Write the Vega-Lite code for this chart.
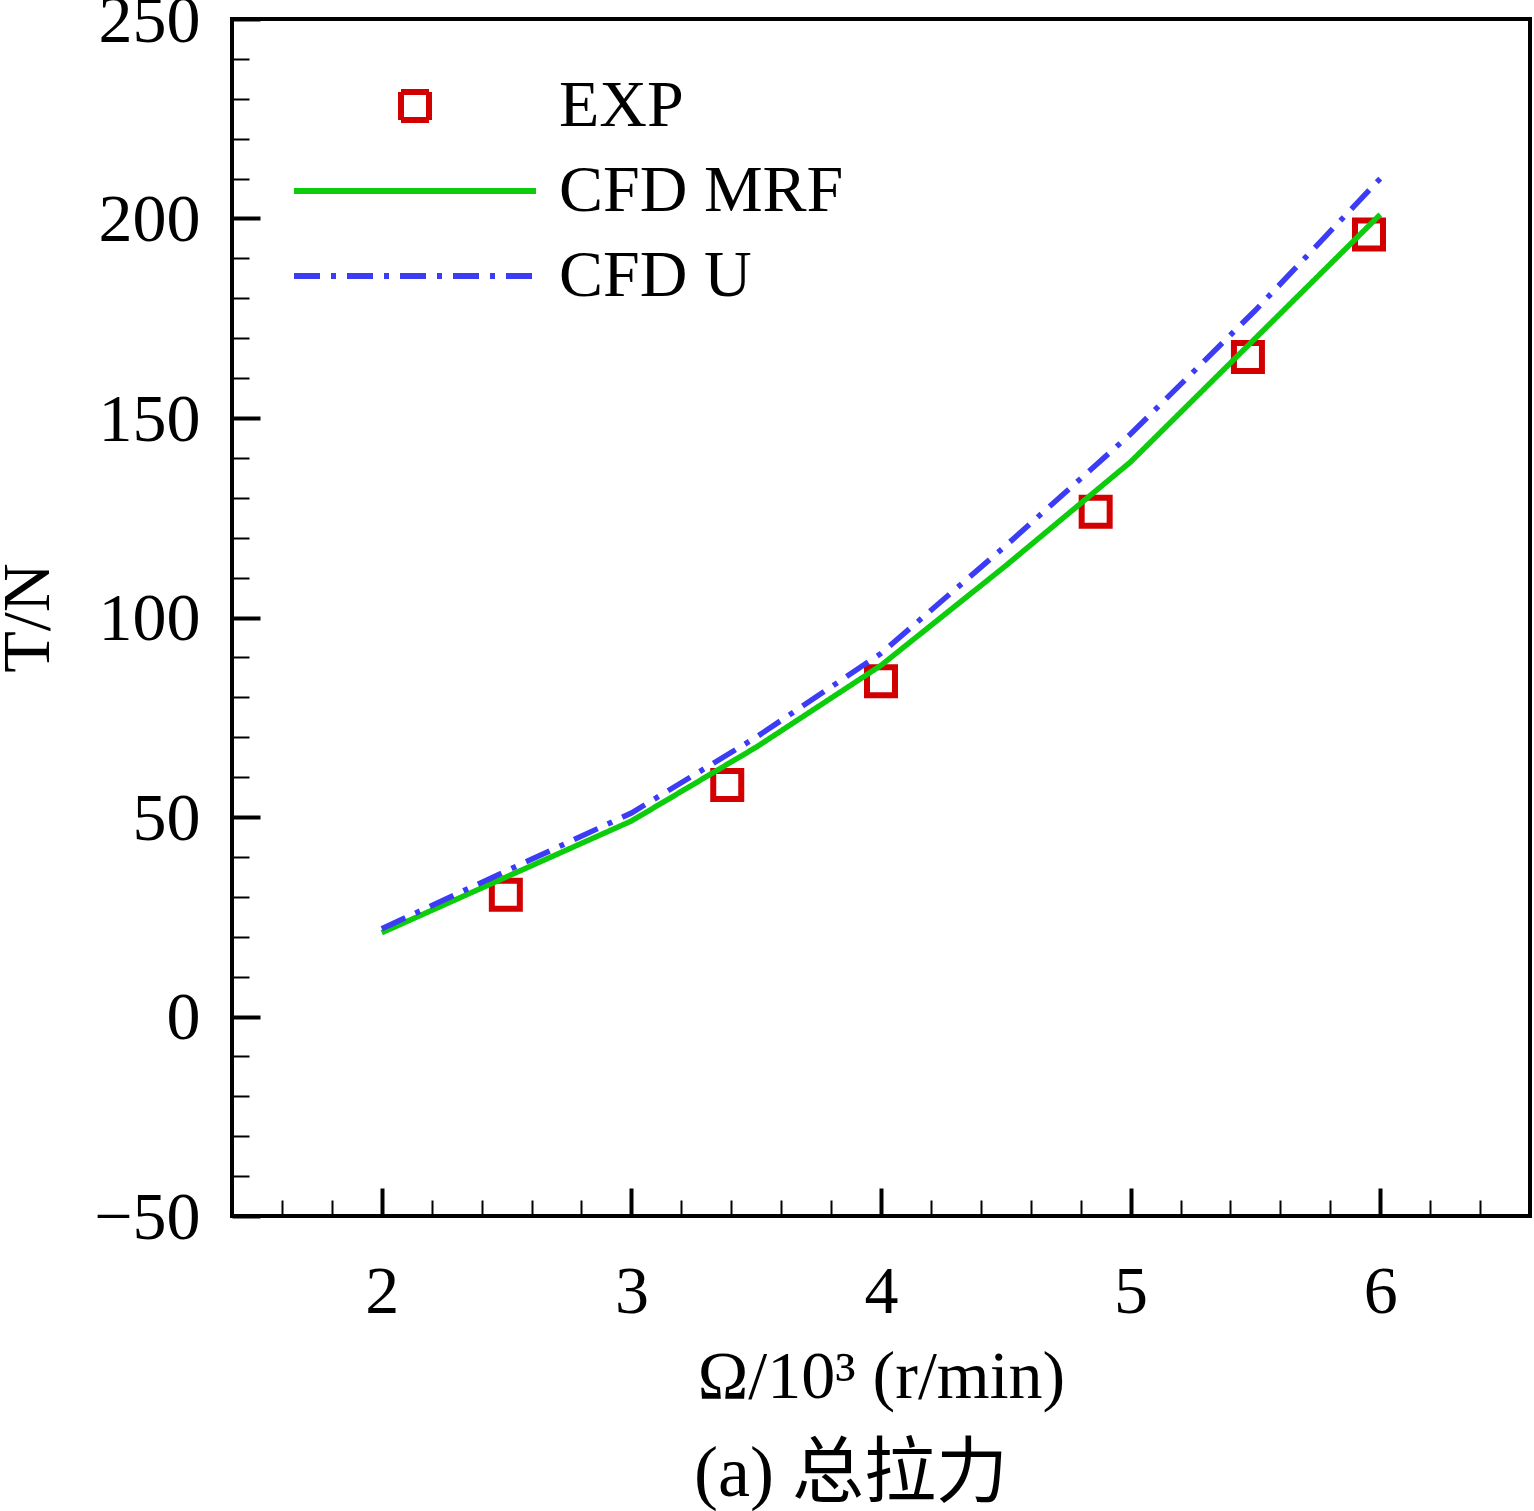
{
  "$schema": "https://vega.github.io/schema/vega-lite/v6.json",
  "description": "Total thrust T vs rotor speed: EXP vs CFD MRF vs CFD U",
  "width": 1298,
  "height": 1197,
  "autosize": {"type": "none"},
  "padding": {"left": 232, "top": 19, "right": 4, "bottom": 295},
  "background": "white",
  "title": {
    "text": "(a) 总拉力",
    "orient": "bottom",
    "anchor": "middle",
    "frame": "group",
    "font": "Liberation Serif, Noto Sans CJK SC",
    "fontSize": 72,
    "fontWeight": "normal",
    "color": "black",
    "offset": 28,
    "dx": -30
  },
  "datasets": {
    "exp": [
      {"speed": 2.497, "thrust": 30.5, "series": "EXP"},
      {"speed": 3.384, "thrust": 58.0, "series": "EXP"},
      {"speed": 4.0, "thrust": 84.0, "series": "EXP"},
      {"speed": 4.86, "thrust": 126.5, "series": "EXP"},
      {"speed": 5.47, "thrust": 165.3, "series": "EXP"},
      {"speed": 5.955, "thrust": 196.0, "series": "EXP"}
    ],
    "cfd": [
      {"speed": 2.0, "thrust": 21.0, "series": "CFD MRF"},
      {"speed": 2.5, "thrust": 35.0, "series": "CFD MRF"},
      {"speed": 3.0, "thrust": 49.0, "series": "CFD MRF"},
      {"speed": 3.5, "thrust": 67.5, "series": "CFD MRF"},
      {"speed": 4.0, "thrust": 88.0, "series": "CFD MRF"},
      {"speed": 4.5, "thrust": 113.0, "series": "CFD MRF"},
      {"speed": 5.0, "thrust": 139.0, "series": "CFD MRF"},
      {"speed": 5.5, "thrust": 170.0, "series": "CFD MRF"},
      {"speed": 6.0, "thrust": 201.0, "series": "CFD MRF"},
      {"speed": 2.0, "thrust": 22.0, "series": "CFD U"},
      {"speed": 2.5, "thrust": 36.5, "series": "CFD U"},
      {"speed": 3.0, "thrust": 51.0, "series": "CFD U"},
      {"speed": 3.5, "thrust": 70.0, "series": "CFD U"},
      {"speed": 4.0, "thrust": 91.0, "series": "CFD U"},
      {"speed": 4.5, "thrust": 118.0, "series": "CFD U"},
      {"speed": 5.0, "thrust": 146.0, "series": "CFD U"},
      {"speed": 5.5, "thrust": 177.0, "series": "CFD U"},
      {"speed": 6.0, "thrust": 210.0, "series": "CFD U"}
    ]
  },
  "encoding": {
    "x": {
      "field": "speed",
      "type": "quantitative",
      "scale": {"domain": [1.4, 6.6], "nice": false, "zero": false},
      "axis": {
        "title": "Ω/10³ (r/min)",
        "values": [1.6, 1.8, 2, 2.2, 2.4, 2.6, 2.8, 3, 3.2, 3.4, 3.6, 3.8, 4, 4.2, 4.4, 4.6, 4.8, 5, 5.2, 5.4, 5.6, 5.8, 6, 6.2, 6.4],
        "labelExpr": "datum.value % 1 === 0 ? format(datum.value, 'd') : ''",
        "tickSize": {"condition": {"test": "datum.value % 1 === 0", "value": -28}, "value": -16},
        "tickWidth": {"condition": {"test": "datum.value % 1 === 0", "value": 4}, "value": 2},
        "labelPadding": 70,
        "titlePadding": 17
      }
    },
    "y": {
      "field": "thrust",
      "type": "quantitative",
      "scale": {"domain": [-50, 250], "nice": false, "zero": false},
      "axis": {
        "title": "T/N",
        "values": [-50, -40, -30, -20, -10, 0, 10, 20, 30, 40, 50, 60, 70, 80, 90, 100, 110, 120, 130, 140, 150, 160, 170, 180, 190, 200, 210, 220, 230, 240, 250],
        "labelExpr": "datum.value % 50 === 0 ? datum.label : ''",
        "tickSize": {"condition": {"test": "datum.value % 50 === 0", "value": -28}, "value": -17},
        "tickWidth": {"condition": {"test": "datum.value % 50 === 0", "value": 4}, "value": 2},
        "labelPadding": 60,
        "labelOffset": 2,
        "titlePadding": 31
      }
    },
    "color": {
      "field": "series",
      "type": "nominal",
      "scale": {
        "domain": ["EXP", "CFD MRF", "CFD U"],
        "range": ["#d20000", "#0ccc0c", "#3c3cf5"]
      },
      "legend": {
        "title": null,
        "orient": "none",
        "legendX": 59,
        "legendY": 52,
        "padding": 0,
        "labelFont": "Liberation Serif",
        "labelFontSize": 66,
        "labelColor": "black",
        "labelOffset": 20,
        "labelLimit": 500,
        "symbolSize": 58564,
        "symbolStrokeWidth": 6,
        "clipHeight": 70,
        "rowPadding": 15,
        "encode": {
          "symbols": {
            "update": {
              "size": {"signal": "datum.value === 'EXP' ? 784 : 58564"},
              "fill": {"value": "transparent"},
              "stroke": {"scale": "color", "field": "value"}
            }
          }
        }
      }
    }
  },
  "layer": [
    {
      "data": {"name": "exp"},
      "mark": {"type": "point", "shape": "square", "filled": false, "size": 784, "strokeWidth": 6, "opacity": 1},
      "encoding": {
        "shape": {
          "field": "series",
          "type": "nominal",
          "scale": {"domain": ["EXP", "CFD MRF", "CFD U"], "range": ["square", "stroke", "stroke"]}
        }
      }
    },
    {
      "data": {"name": "cfd"},
      "mark": {"type": "line", "strokeWidth": 5.5, "strokeCap": "butt"},
      "encoding": {
        "strokeDash": {
          "field": "series",
          "type": "nominal",
          "scale": {"domain": ["EXP", "CFD MRF", "CFD U"], "range": [[1, 0], [1, 0], [26, 11, 5, 11]]}
        }
      }
    }
  ],
  "config": {
    "view": {"stroke": "black", "strokeWidth": 4},
    "axis": {
      "grid": false,
      "domain": false,
      "tickColor": "black",
      "labelFont": "Liberation Serif",
      "labelFontSize": 68,
      "labelColor": "black",
      "titleFont": "Liberation Serif",
      "titleFontSize": 68,
      "titleFontWeight": "normal",
      "titleColor": "black"
    }
  }
}
